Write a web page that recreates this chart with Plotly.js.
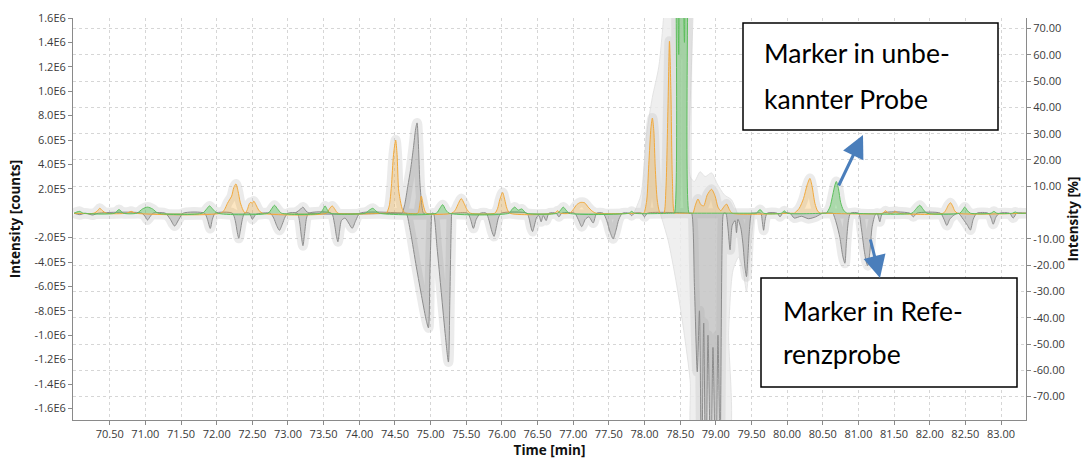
<!DOCTYPE html>
<html>
<head>
<meta charset="utf-8">
<script src="https://cdn.plot.ly/plotly-3.0.1.min.js"></script>
<style>
  html, body { margin: 0; padding: 0; background: #ffffff; }
  #chart { width: 1082px; height: 460px; }
</style>
</head>
<body>
<div id="chart"></div>
<script>
// ---- Sample (unknown) chromatogram, positive side ----
const orangeTime = [70.00, 70.28, 70.33, 70.36, 70.40, 70.45, 70.74, 70.80, 70.86,
  72.06, 72.11, 72.15, 72.18, 72.21, 72.24, 72.27, 72.30, 72.33, 72.37, 72.40,
  72.43, 72.46, 72.48, 72.50, 72.52, 72.55, 72.59, 72.64,
  73.54, 73.58, 73.62, 73.66, 73.70,
  74.36, 74.38, 74.42, 74.45, 74.48, 74.51, 74.53, 74.55, 74.57, 74.60, 74.64, 74.66,
  74.82, 74.85, 74.87, 74.90, 74.94,
  75.30, 75.35, 75.39, 75.43, 75.47, 75.51, 75.56,
  75.90, 75.94, 75.97, 76.01, 76.04, 76.07, 76.11,
  76.74, 76.78, 76.82,
  76.95, 77.00, 77.05, 77.10, 77.16, 77.21, 77.26, 77.32,
  77.96, 77.99, 78.03, 78.06, 78.09, 78.11, 78.13, 78.15, 78.18, 78.22,
  78.27, 78.30, 78.33, 78.35, 78.37, 78.39, 78.42, 78.45,
  78.66, 78.68, 78.71, 78.75, 78.79, 78.83, 78.88, 78.94, 78.99, 79.03, 79.07, 79.11, 79.15, 79.19, 79.23,
  80.08, 80.10, 80.17, 80.23, 80.28, 80.32, 80.35, 80.39, 80.43, 80.47, 80.49,
  81.34, 81.38, 81.42, 81.48, 81.52, 81.56,
  82.19, 82.23, 82.26, 82.29, 82.32, 82.35, 82.39, 83.35];
const orangeCounts = [0, 0, 2.0e4, 4.0e4, 2.0e4, 0, 0, 1.5e4, 0,
  0, 3.0e4, 8.0e4, 1.1e5, 1.4e5, 2.1e5, 2.4e5, 1.8e5, 9.0e4, 2.5e4, 0,
  3.0e4, 8.0e4, 9.0e4, 8.0e4, 1.0e5, 7.0e4, 2.5e4, 0,
  0, 3.5e4, 6.0e4, 3.0e4, 0,
  0, 0, 6.0e4, 2.2e5, 4.8e5, 6.0e5, 4.8e5, 2.0e5, 1.2e5, 4.0e4, 0, 0,
  0, 8.0e4, 1.4e5, 6.0e4, 0,
  0, 3.0e4, 8.0e4, 1.2e5, 8.0e4, 3.0e4, 0,
  0, 4.0e4, 1.1e5, 1.7e5, 1.1e5, 4.0e4, 0,
  0, 2.0e4, 0,
  0, 3.0e4, 7.0e4, 8.8e4, 8.5e4, 5.0e4, 2.0e4, 0,
  0, 0, 1.0e5, 4.0e5, 7.0e5, 7.8e5, 6.8e5, 3.8e5, 1.0e5, 0,
  0, 2.0e5, 9.0e5, 1.41e6, 1.0e6, 3.0e5, 0, 0,
  0, 0, 6.0e4, 1.16e5, 7.0e4, 6.0e4, 1.5e5, 1.96e5, 1.4e5, 5.0e4, 2.0e4, 5.0e4, 7.5e4, 3.0e4, 0,
  0, 0, 4.0e4, 1.2e5, 2.3e5, 2.85e5, 2.2e5, 8.0e4, 1.5e4, 0, 0,
  0, 2.0e4, 0, 0, 1.5e4, 0,
  0, 3.0e4, 6.5e4, 8.6e4, 6.0e4, 2.0e4, 0, 0];

const greenTime = [70.00, 70.04, 70.08, 70.13, 70.57, 70.63, 70.69,
  70.88, 70.96, 71.03, 71.10, 71.18,
  71.80, 71.86, 71.90, 71.95, 72.01,
  72.72, 72.77, 72.81, 72.86, 72.91,
  73.45, 73.49, 73.52, 73.55, 73.59,
  74.08, 74.14, 74.19, 74.23, 74.28,
  75.08, 75.13, 75.17, 75.21, 75.26,
  76.10, 76.14, 76.18, 76.23, 76.28, 76.34,
  76.78, 76.83, 76.86, 76.90, 76.94,
  77.78, 77.82, 77.86,
  78.40, 78.42, 78.435, 78.46, 78.48, 78.50, 78.53, 78.56, 78.58, 78.61, 78.625, 78.645,
  79.55, 79.57, 79.62, 79.67, 79.92, 79.96, 80.00,
  80.53, 80.55, 80.60, 80.64, 80.67, 80.69, 80.72, 80.75, 80.79, 80.84, 80.86,
  81.75, 81.80, 81.86, 81.91, 81.96,
  82.42, 82.46, 82.49, 82.53, 82.57,
  82.86, 82.90, 82.94, 83.16, 83.20, 83.24, 83.35];
const greenCounts = [0, 1.0e4, 1.5e4, 0, 0, 3.0e4, 0,
  0, 3.5e4, 5.0e4, 3.5e4, 0,
  0, 3.5e4, 6.0e4, 3.0e4, 0,
  0, 3.5e4, 6.5e4, 3.0e4, 0,
  0, 3.0e4, 6.0e4, 3.0e4, 0,
  0, 2.5e4, 4.0e4, 2.0e4, 0,
  0, 4.0e4, 7.0e4, 3.0e4, 0,
  0, 3.0e4, 5.0e4, 2.5e4, 3.5e4, 0,
  0, 3.0e4, 5.0e4, 2.5e4, 0,
  0, 1.5e4, 0,
  0, 0, 2.6e6, 2.2e6, 1.3e6, 3.0e6, 2.4e6, 1.4e6, 3.0e6, 2.5e6, 0, 0,
  0, 0, 3.0e4, 0, 0, 2.0e4, 0,
  0, 0, 5.0e4, 1.5e5, 2.3e5, 2.6e5, 2.0e5, 9.0e4, 2.5e4, 0, 0,
  0, 3.0e4, 6.5e4, 3.0e4, 0,
  0, 2.5e4, 5.0e4, 2.0e4, 0,
  0, 1.5e4, 0, 0, 1.0e4, 0, 0];

const grayUpTime = [73.10, 73.17, 73.21, 73.25, 73.30,
  74.58, 74.60, 74.64, 74.68, 74.72, 74.76, 74.79, 74.81, 74.83, 74.85, 74.88, 74.90, 74.92];
const grayUpCounts = [0, 3.0e4, 5.0e4, 2.0e4, 0,
  0, 0, 8.0e4, 2.2e5, 3.6e5, 5.4e5, 6.9e5, 7.4e5, 5.5e5, 2.5e5, 5.0e4, 0, 0];

// ---- Reference chromatogram, mirrored to the negative side ----
const refTime = [70.00, 70.08, 70.16, 70.26, 70.34,
  70.95, 71.00, 71.03, 71.07, 71.11,
  71.28, 71.35, 71.41, 71.47, 71.53,
  71.83, 71.87, 71.91, 71.94, 71.98,
  72.22, 72.26, 72.29, 72.31, 72.33, 72.36, 72.39,
  72.46, 72.50, 72.55,
  72.75, 72.80, 72.84, 72.88, 72.92, 72.96, 73.00,
  73.13, 73.16, 73.19, 73.21, 73.23, 73.26, 73.29,
  73.61, 73.65, 73.68, 73.70, 73.72, 73.75, 73.80, 73.85, 73.90, 73.95, 74.01,
  74.64, 74.66, 74.72, 74.80, 74.88, 74.94, 74.97, 74.99, 75.01, 75.02,
  75.04, 75.09, 75.15, 75.21, 75.25, 75.27, 75.29, 75.30, 75.32,
  75.52, 75.56, 75.60, 75.64, 75.70,
  75.78, 75.82, 75.86, 75.89, 75.92, 75.95, 75.99,
  76.35, 76.38, 76.41, 76.43, 76.46, 76.49, 76.52, 76.55, 76.58, 76.62, 76.66,
  76.76, 76.80, 76.84,
  77.02, 77.07, 77.12, 77.17, 77.22, 77.28, 77.33,
  77.42, 77.47, 77.52, 77.56, 77.60, 77.64, 77.69,
  77.78, 77.82, 77.86, 77.96, 78.00, 78.04,
  78.64, 78.66, 78.70, 78.74, 78.77, 78.80, 78.83, 78.86, 78.89, 78.93, 78.96, 79.00, 79.03, 79.06, 79.09, 79.11,
  79.14, 79.17, 79.20, 79.23, 79.27, 79.29, 79.31, 79.35, 79.38, 79.41, 79.43, 79.45, 79.47, 79.50, 79.52,
  79.63, 79.65, 79.67, 79.69, 79.72,
  79.86, 79.90, 79.94,
  80.04, 80.10, 80.20, 80.30, 80.40, 80.50,
  80.62, 80.64, 80.69, 80.74, 80.78, 80.81, 80.83, 80.86, 80.89,
  81.00, 81.04, 81.08, 81.11, 81.13, 81.16, 81.19, 81.23, 81.26, 81.28, 81.30, 81.34,
  81.72, 81.77, 81.82,
  82.15, 82.20, 82.24, 82.28, 82.33, 82.40,
  82.47, 82.53, 82.57, 82.61, 82.66,
  82.82, 82.86, 82.89, 82.93, 82.98,
  83.12, 83.17, 83.22, 83.35];
const refCounts = [0, -1.2e4, 0, -1.5e4, 0,
  0, -3.0e4, -5.6e4, -2.5e4, 0,
  0, -5.0e4, -1.05e5, -5.0e4, 0,
  0, -5.0e4, -1.25e5, -5.0e4, 0,
  0, -6.0e4, -1.6e5, -2.06e5, -1.5e5, -5.0e4, 0,
  0, -5.0e4, -1.0e4,
  0, -4.0e4, -1.0e5, -1.4e5, -9.0e4, -3.0e4, 0,
  0, -6.0e4, -2.0e5, -2.66e5, -1.8e5, -4.0e4, 0,
  0, -8.0e4, -1.9e5, -2.34e5, -1.6e5, -6.0e4, -4.0e4, -8.0e4, -1.24e5, -6.0e4, 0,
  0, 0, -1.6e5, -4.4e5, -7.0e5, -8.8e5, -9.4e5, -5.0e5, -8.0e4, 0,
  0, -2.8e5, -6.5e5, -1.02e6, -1.22e6, -7.0e5, -1.0e5, 0, 0,
  0, -5.0e4, -1.24e5, -5.0e4, 0,
  0, -6.0e4, -1.5e5, -1.9e5, -1.2e5, -4.0e4, 0,
  0, -4.0e4, -1.2e5, -1.5e5, -9.0e4, -3.0e4, -2.0e4, -7.0e4, -2.0e4, -6.0e4, 0,
  0, -3.0e4, 0,
  0, -5.0e4, -1.1e5, -5.0e4, -3.0e4, -8.0e4, 0,
  0, -6.0e4, -1.6e5, -2.1e5, -1.4e5, -5.0e4, 0,
  0, -2.0e4, 0, 0, -3.0e4, 0,
  0, 0, -6.0e5, -1.3e6, -8.0e5, -2.2e6, -9.0e5, -2.4e6, -1.0e6, -2.2e6, -1.1e6, -2.3e6, -1.0e6, -2.0e6, -2.0e5, 0,
  0, -1.2e5, -3.0e5, -1.0e5, -6.0e4, -1.6e5, -5.0e4, -1.2e5, -2.5e5, -4.5e5, -5.2e5, -3.5e5, -1.5e5, 0, 0,
  0, -6.0e4, -1.4e5, -6.0e4, 0,
  0, -3.0e4, 0,
  0, -4.0e4, -2.5e4, -4.5e4, -3.0e4, 0,
  0, 0, -8.0e4, -2.0e5, -3.5e5, -4.1e5, -2.5e5, -6.0e4, 0,
  0, -1.2e5, -3.0e5, -4.0e5, -4.3e5, -3.2e5, -1.2e5, -2.0e4, 0, -3.0e4, -7.0e4, 0,
  0, -3.0e4, 0,
  0, -5.0e4, -1.0e5, -5.0e4, -2.0e4, 0,
  -5.0e4, -1.0e5, -1.38e5, -5.0e4, 0,
  0, -4.0e4, -9.0e4, -3.0e4, 0,
  0, -4.0e4, 0, 0];

// ---- Summed signal envelopes around the co-eluting region ----
const sumUpTime = [77.85, 77.95, 78.03, 78.11, 78.20, 78.28, 78.36, 78.62, 78.64, 78.70, 78.78, 78.85, 78.94, 79.02, 79.12, 79.22, 79.30];
const sumUpCounts = [0, 1.5e5, 6.5e5, 9.5e5, 1.2e6, 1.7e6, 2.5e6, 2.5e6, 3.0e5, 2.6e5, 3.4e5, 3.0e5, 3.3e5, 2.4e5, 1.5e5, 1.1e5, 0];
const sumDownTime = [78.22, 78.33, 78.44, 78.55, 78.64, 78.69, 79.16, 79.18, 79.24, 79.32, 79.38, 79.43, 79.48, 79.54];
const sumDownCounts = [0, -2.2e5, -5.5e5, -9.6e5, -1.37e6, -1.9e6, -1.9e6, -9.6e5, -4.7e5, -3.6e5, -4.6e5, -6.4e5, -3.0e5, 0];

// ---- Axis ticks ----
const timeTicks = [70.5, 71.0, 71.5, 72.0, 72.5, 73.0, 73.5, 74.0, 74.5, 75.0, 75.5, 76.0, 76.5,
  77.0, 77.5, 78.0, 78.5, 79.0, 79.5, 80.0, 80.5, 81.0, 81.5, 82.0, 82.5, 83.0];
const countTicks = [1.6e6, 1.4e6, 1.2e6, 1.0e6, 8e5, 6e5, 4e5, 2e5, -2e5, -4e5, -6e5, -8e5, -1.0e6, -1.2e6, -1.4e6, -1.6e6];
const countTickText = ['1.6E6', '1.4E6', '1.2E6', '1.0E6', '8.0E5', '6.0E5', '4.0E5', '2.0E5',
  '-2.0E5', '-4.0E5', '-6.0E5', '-8.0E5', '-1.0E6', '-1.2E6', '-1.4E6', '-1.6E6'];
const percentTicks = [70, 60, 50, 40, 30, 20, 10, -10, -20, -30, -40, -50, -60, -70];
const percentTickText = ['70.00', '60.00', '50.00', '40.00', '30.00', '20.00', '10.00',
  '-10.00', '-20.00', '-30.00', '-40.00', '-50.00', '-60.00', '-70.00'];

// ---- Callout texts ----
const sampleNote = ['Marker in unbe-', 'kannter Probe'];
const referenceNote = ['Marker in Refe-', 'renzprobe'];

const SHAPE = 'spline';
const SMOOTH = 0.7;

function filled(x, y, line, fill, width) {
  return {
    x: x, y: y, type: 'scatter', mode: 'lines', fill: 'tozeroy', fillcolor: fill,
    line: { color: line, width: width, shape: SHAPE, smoothing: SMOOTH },
    hoverinfo: 'skip', showlegend: false
  };
}

// soft grey glow drawn under every chromatogram trace (one group, so no stacking)
const glowX = [].concat(orangeTime, [null], greenTime, [null], grayUpTime, [null], refTime);
const glowY = [].concat(orangeCounts, [null], greenCounts, [null], grayUpCounts, [null], refCounts);

const traces = [
  filled(sumUpTime, sumUpCounts, 'rgba(225,225,225,0.9)', 'rgba(236,236,236,0.85)', 1),
  filled(sumDownTime, sumDownCounts, 'rgba(225,225,225,0.9)', 'rgba(236,236,236,0.85)', 1),
  {
    x: glowX, y: glowY, type: 'scatter', mode: 'lines', connectgaps: false, opacity: 0.32,
    line: { color: '#c2c2c2', width: 10, shape: SHAPE, smoothing: SMOOTH },
    hoverinfo: 'skip', showlegend: false
  },
  filled(refTime, refCounts, '#8c8c8c', 'rgba(150,150,150,0.38)', 1),
  filled(grayUpTime, grayUpCounts, '#8c8c8c', 'rgba(150,150,150,0.38)', 1),
  filled(orangeTime, orangeCounts, '#f2a93b', 'rgba(245,166,35,0.28)', 1),
  filled(greenTime, greenCounts, '#5cbf5c', 'rgba(76,187,76,0.4)', 1),
  { x: [null], y: [null], yaxis: 'y2', type: 'scatter', mode: 'lines', hoverinfo: 'skip', showlegend: false }
];

const tickFont = { family: 'Open Sans, Noto Sans, sans-serif', size: 11, color: '#3a3a3a' };
const titleFont = { family: 'Open Sans, Noto Sans, sans-serif', size: 13.5, color: '#111', weight: 'bold' };
const noteFont = { family: 'Lato, Open Sans, sans-serif', size: 26.5, color: '#000' };

// plot area in pixels: x 73..1026, y 18..420
const PX0 = 73, PW = 953, PY1 = 420, PH = 402;
const px = v => (v - PX0) / PW;
const py = v => (PY1 - v) / PH;

const layout = {
  width: 1082, height: 460,
  margin: { l: 73, r: 56, t: 18, b: 40 },
  paper_bgcolor: '#ffffff', plot_bgcolor: '#ffffff',
  showlegend: false,
  xaxis: {
    range: [69.985, 83.35], tickvals: timeTicks, tickformat: '.2f',
    showgrid: true, gridcolor: '#d6d6d6', griddash: 'dot', gridwidth: 1,
    zeroline: false, showline: true, linecolor: '#8a8a8a', linewidth: 1,
    ticks: 'outside', ticklen: 4, tickcolor: '#8a8a8a', tickfont: tickFont,
    title: { text: 'Time [min]', font: titleFont, standoff: 5 }
  },
  yaxis: {
    range: [-1.695e6, 1.6e6], tickvals: countTicks, ticktext: countTickText,
    showgrid: false, zeroline: false, showline: true, linecolor: '#8a8a8a', linewidth: 1,
    ticks: 'outside', ticklen: 4, tickcolor: '#8a8a8a', tickfont: tickFont,
    title: { text: 'Intensity [counts]', font: titleFont, standoff: 10 }
  },
  yaxis2: {
    overlaying: 'y', side: 'right', range: [-78.9, 74.0],
    tickvals: percentTicks, ticktext: percentTickText,
    showgrid: true, gridcolor: '#d6d6d6', griddash: 'dot', gridwidth: 1,
    zeroline: false, showline: true, linecolor: '#8a8a8a', linewidth: 1,
    ticks: 'outside', ticklen: 4, tickcolor: '#8a8a8a', tickfont: tickFont,
    title: { text: 'Intensity [%]', font: titleFont, standoff: 4 }
  },
  shapes: [
    { type: 'rect', xref: 'paper', yref: 'paper', x0: px(743), x1: px(998), y0: py(130), y1: py(23),
      line: { color: '#000', width: 1.5 }, fillcolor: '#ffffff', layer: 'above' },
    { type: 'rect', xref: 'paper', yref: 'paper', x0: px(761), x1: px(1017), y0: py(387), y1: py(278),
      line: { color: '#000', width: 1.5 }, fillcolor: '#ffffff', layer: 'above' }
  ],
  annotations: [
    { xref: 'paper', yref: 'paper', x: px(762), y: py(53), xanchor: 'left', yanchor: 'middle',
      text: sampleNote[0], showarrow: false, font: noteFont },
    { xref: 'paper', yref: 'paper', x: px(762), y: py(99), xanchor: 'left', yanchor: 'middle',
      text: sampleNote[1], showarrow: false, font: noteFont },
    { xref: 'paper', yref: 'paper', x: px(781), y: py(311), xanchor: 'left', yanchor: 'middle',
      text: referenceNote[0], showarrow: false, font: noteFont },
    { xref: 'paper', yref: 'paper', x: px(781), y: py(354), xanchor: 'left', yanchor: 'middle',
      text: referenceNote[1], showarrow: false, font: noteFont },
    { xref: 'paper', yref: 'paper', x: px(863), y: py(135), text: '', showarrow: true,
      ax: -25, ay: 52, arrowcolor: '#4a7ebb', arrowwidth: 3, arrowhead: 2, arrowsize: 1.5, standoff: 0 },
    { xref: 'paper', yref: 'paper', x: px(880), y: py(278), text: '', showarrow: true,
      ax: -10, ay: -40, arrowcolor: '#4a7ebb', arrowwidth: 3, arrowhead: 2, arrowsize: 1.5, standoff: 0 }
  ]
};

Plotly.newPlot('chart', traces, layout, { staticPlot: true, displayModeBar: false });
</script>
</body>
</html>
